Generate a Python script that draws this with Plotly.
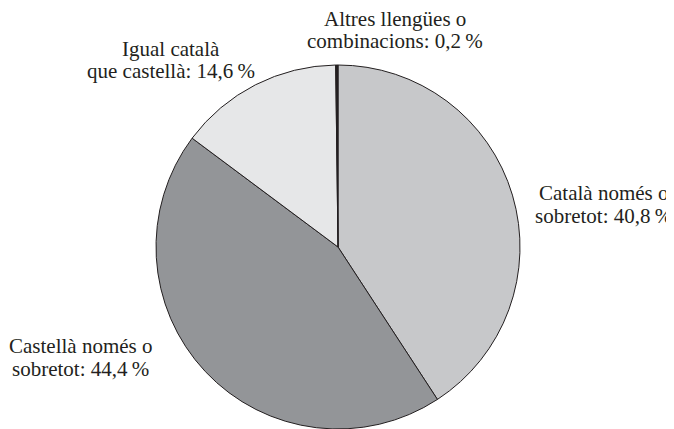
import plotly.graph_objects as go

categories = ["Català només o sobretot", "Castellà només o sobretot",
              "Igual català que castellà", "Altres llengües o combinacions"]
values = [40.8, 44.4, 14.6, 0.2]
colors = ["#c7c8ca", "#939598", "#e6e7e8", "#231f20"]

# label lines (two lines each) and their positions in page pixels
label_lines = [
    ["Català només o", "sobretot: 40,8\u2009%"],
    ["Castellà només o", "sobretot: 44,4\u2009%"],
    ["Igual català", "que castellà: 14,6\u2009%"],
    ["Altres llengües o", "combinacions: 0,2\u2009%"],
]
label_pos = [
    (603, [193, 216]),
    (80, [346, 369]),
    (171, [49, 71]),
    (395, [19, 41]),
]

OFF = 8  # page body margin
W, H = 674 - OFF, 429 - OFF
FONT = "Liberation Serif, Times New Roman, DejaVu Serif, serif"

fig = go.Figure(go.Pie(
    labels=categories,
    values=values,
    marker=dict(colors=colors, line=dict(color="#231f20", width=1)),
    sort=False,
    direction="clockwise",
    rotation=0,
    textinfo="none",
    hoverinfo="skip",
    showlegend=False,
    domain=dict(x=[(156 - OFF) / W, (520 - OFF) / W], y=[0, 364 / H]),
))

annotations = []
for lines, (cx, ys) in zip(label_lines, label_pos):
    for line, y in zip(lines, ys):
        annotations.append(dict(
            text=line, x=(cx - OFF) / W, y=1 - (y - OFF) / H,
            xref="paper", yref="paper",
            xanchor="center", yanchor="middle", showarrow=False,
            font=dict(family=FONT, size=21, color="#231f20"),
        ))

fig.update_layout(
    width=W, height=H,
    margin=dict(l=0, r=0, t=0, b=0),
    paper_bgcolor="white",
    plot_bgcolor="white",
    font=dict(family=FONT),
    annotations=annotations,
)

fig.write_html("out.html")
